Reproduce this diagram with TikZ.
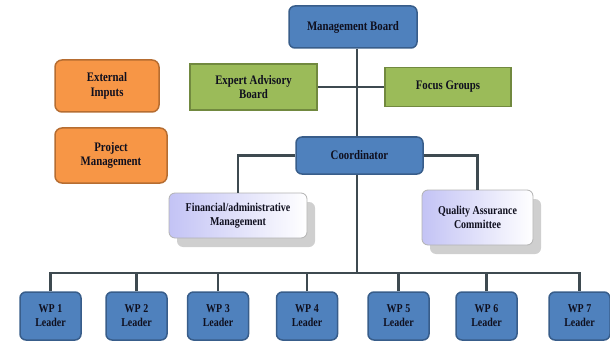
\documentclass[tikz,border=0pt]{standalone}
\usepackage{fontspec}
\setmainfont{Liberation Serif}[FakeStretch=0.83]
\usetikzlibrary{shadows}
\definecolor{bluefill}{RGB}{79,129,189}
\definecolor{blueline}{RGB}{56,93,138}
\definecolor{greenfill}{RGB}{155,187,89}
\definecolor{greenline}{RGB}{113,137,63}
\definecolor{orangefill}{RGB}{247,150,70}
\definecolor{orangeline}{RGB}{182,109,49}
\definecolor{conn}{RGB}{62,74,80}
\definecolor{lav}{RGB}{195,195,245}
\definecolor{txt}{RGB}{15,15,30}
\begin{document}
\begin{tikzpicture}[x=1pt,y=-1pt,
  box/.style={draw, line width=1.5pt, align=center, text=txt, inner sep=0pt,
    font=\bfseries\fontsize{13}{14.5}\selectfont},
  bluebox/.style={box, fill=bluefill, draw=blueline, rounded corners=6pt},
  greenbox/.style={box, fill=greenfill, draw=greenline},
  orangebox/.style={box, fill=orangefill, draw=orangeline, rounded corners=7pt},
  lavbox/.style={box, draw=gray!60, line width=0.8pt, left color=lav, right color=white,
    rounded corners=6pt,
    drop shadow={shadow xshift=8pt, shadow yshift=-9pt, fill=gray!50, opacity=0.75},
    font=\bfseries\fontsize{12}{14}\selectfont},
  wpbox/.style={bluebox, minimum width=61pt, minimum height=48pt,
    font=\bfseries\fontsize{12}{14}\selectfont},
  link/.style={draw=conn, line width=2.6pt}]
\useasboundingbox (0,0) rectangle (610,342);

\coordinate (v) at (357,0);
\coordinate (bus) at (0,273);

\node[bluebox, minimum width=128pt, minimum height=42pt] (MB) at (353,27) {Management Board};
\node[orangebox, minimum width=104pt, minimum height=52pt] (EI) at (107,86) {External\\Imputs};
\node[orangebox, minimum width=112pt, minimum height=55pt] (PM) at (111,155.5) {Project\\Management};
\node[greenbox, minimum width=127pt, minimum height=46pt] (EAB) at (253.5,87) {Expert Advisory\\Board};
\node[greenbox, minimum width=126pt, minimum height=39pt] (FG) at (448,87) {Focus Groups};
\node[bluebox, minimum width=127pt, minimum height=37pt] (Coord) at (359.5,155.5) {Coordinator};
\node[lavbox, minimum width=138pt, minimum height=45pt] (FA) at (238,215.5) {Financial/administrative\\Management};
\node[lavbox, minimum width=111pt, minimum height=55pt] (QA) at (477.5,217.5) {Quality Assurance\\Committee};

\node[wpbox] (w1) at (50.5,316) {WP 1\\Leader};
\node[wpbox] (w2) at (136.5,316) {WP 2\\Leader};
\node[wpbox] (w3) at (218,316) {WP 3\\Leader};
\node[wpbox] (w4) at (307,316) {WP 4\\Leader};
\node[wpbox] (w5) at (398.5,316) {WP 5\\Leader};
\node[wpbox] (w6) at (486.5,316) {WP 6\\Leader};
\node[wpbox] (w7) at (579.5,316) {WP 7\\Leader};

\draw[link] (MB.south -| v) -- (Coord.north -| v);
\draw[link] (EAB.east) -- (FG.west);
\draw[link] (Coord.west) -| (FA.north);
\draw[link] (Coord.east) -| (QA.north);
\draw[link] (Coord.south -| v) -- (v |- bus);
\draw[link] (w1.north) -- (w1.north |- bus) -- (w7.north |- bus) -- (w7.north);
\foreach \i in {2,...,6} {\draw[link] (w\i.north) -- (w\i.north |- bus);}
\end{tikzpicture}
\end{document}
